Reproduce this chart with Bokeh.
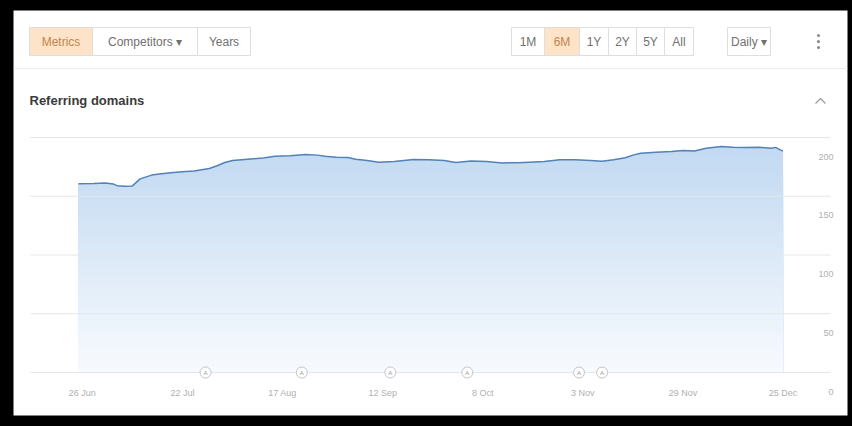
import numpy as np
import pandas as pd
from bokeh.plotting import figure
from bokeh.models import Range1d, GlobalInlineStyleSheet
from bokeh.core.properties import value
from bokeh.embed import file_html
from bokeh.resources import INLINE

# ---------------- data ----------------
dates = ["2019-06-25", "2019-06-29", "2019-07-02", "2019-07-04", "2019-07-05", "2019-07-07",
         "2019-07-09", "2019-07-11", "2019-07-14", "2019-07-16", "2019-07-19", "2019-07-22",
         "2019-07-25", "2019-07-29", "2019-07-31", "2019-08-02", "2019-08-04", "2019-08-08",
         "2019-08-12", "2019-08-15", "2019-08-19", "2019-08-23", "2019-08-26", "2019-08-28",
         "2019-08-31", "2019-09-03", "2019-09-05", "2019-09-08", "2019-09-11", "2019-09-15",
         "2019-09-20", "2019-09-24", "2019-09-28", "2019-10-01", "2019-10-05", "2019-10-09",
         "2019-10-13", "2019-10-17", "2019-10-20", "2019-10-24", "2019-10-28", "2019-11-01",
         "2019-11-05", "2019-11-08", "2019-11-11", "2019-11-14", "2019-11-16", "2019-11-18",
         "2019-11-22", "2019-11-26", "2019-11-29", "2019-12-02", "2019-12-05", "2019-12-09",
         "2019-12-12", "2019-12-15", "2019-12-19", "2019-12-22", "2019-12-23", "2019-12-25"]
referring_domains = [160.6, 160.8, 161.2, 160.5, 159.0, 158.6,
                     158.8, 164.8, 168.0, 169.0, 170.0, 170.8,
                     171.5, 173.6, 176.0, 178.7, 180.4, 181.5,
                     182.6, 184.0, 184.5, 185.5, 185.0, 184.0,
                     183.2, 183.0, 181.5, 180.4, 179.0, 179.5,
                     181.2, 181.0, 180.5, 178.7, 180.0, 179.5,
                     178.3, 178.6, 179.0, 179.5, 181.0, 181.0,
                     180.5, 179.8, 181.0, 182.7, 185.0, 186.6,
                     187.4, 188.0, 188.9, 188.5, 190.9, 192.3,
                     191.8, 191.5, 191.6, 190.9, 191.6, 188.4]

x_tick_dates = ["2019-06-26", "2019-07-22", "2019-08-17", "2019-09-12",
                "2019-10-08", "2019-11-03", "2019-11-29", "2019-12-25"]
x_tick_labels = ["26 Jun", "22 Jul", "17 Aug", "12 Sep", "8 Oct", "3 Nov", "29 Nov", "25 Dec"]
y_ticks = [0, 50, 100, 150, 200]
y_tick_labels = ["0", "50", "100", "150", "200"]

event_dates = ["2019-07-28", "2019-08-22", "2019-09-14", "2019-10-04", "2019-11-02", "2019-11-08"]
event_letters = ["A", "A", "A", "A", "A", "A"]

left_tabs = ["Metrics", "Competitors \u25be", "Years"]
range_tabs = ["1M", "6M", "1Y", "2Y", "5Y", "All"]
interval_label = "Daily \u25be"
chart_title = "Referring domains"

FONT = value("Liberation Sans")

# ---------------- figure geometry ----------------
FW, FH = 834, 405             # white panel (frame) size in px
t0 = pd.Timestamp("2019-06-25")
px_per_day = 3.85             # horizontal scale of the chart
x0_px = 65                    # panel x of first day
px_per_unit = 1.175           # vertical scale of the chart
y0_px = 362                   # panel y of value 0

x_start = t0 + pd.Timedelta(days=-x0_px / px_per_day)
x_end = t0 + pd.Timedelta(days=(FW - x0_px) / px_per_day)
y_lo = -(FH - y0_px) / px_per_unit
y_hi = y0_px / px_per_unit

p = figure(width=852, height=426, x_axis_type="datetime",
           x_range=Range1d(x_start, x_end), y_range=Range1d(y_lo, y_hi),
           x_axis_location=None, y_axis_location=None, output_backend="svg",
           toolbar_location=None, min_border_left=13, min_border_right=5,
           min_border_top=10, min_border_bottom=11, outline_line_color=None,
           background_fill_color="white", border_fill_color="black",
           stylesheets=[GlobalInlineStyleSheet(css="html, body { background: #000; }")])
p.grid.visible = False
p.extra_x_ranges = {"px": Range1d(0, FW)}
p.extra_y_ranges = {"py": Range1d(FH, 0)}
H = dict(x_range_name="px", y_range_name="py")

# ---------------- header ----------------
lt_left = [16, 79, 184]
lt_right = [79, 184, 237]
p.quad(left=lt_left, right=lt_right, top=[17] * 3, bottom=[45] * 3,
       fill_color=["#fde3c8", "white", "white"], line_color="#dedede", line_width=1, **H)
p.text(x=[(a + b) / 2 for a, b in zip(lt_left, lt_right)], y=[31] * 3, text=left_tabs,
       text_align="center", text_baseline="middle", text_font=FONT, text_font_size="12px",
       text_color=["#c4844c", "#707070", "#707070"], **H)

rt_left = [498, 531, 566, 595, 623, 651]
rt_right = [531, 566, 595, 623, 651, 680]
p.quad(left=rt_left, right=rt_right, top=[17] * 6, bottom=[45] * 6,
       fill_color=["white", "#fde3c8", "white", "white", "white", "white"],
       line_color="#dedede", line_width=1, **H)
p.text(x=[(a + b) / 2 for a, b in zip(rt_left, rt_right)], y=[31] * 6, text=range_tabs,
       text_align="center", text_baseline="middle", text_font=FONT, text_font_size="12px",
       text_color=["#707070", "#c4844c", "#707070", "#707070", "#707070", "#707070"], **H)

p.quad(left=[714], right=[757], top=[17], bottom=[45], fill_color="white",
       line_color="#dedede", line_width=1, **H)
p.text(x=[735.5], y=[31], text=[interval_label], text_align="center", text_baseline="middle",
       text_font=FONT, text_font_size="12px", text_color="#707070", **H)
p.scatter(x=[805, 805, 805], y=[25, 31, 37], size=3, marker="circle",
          fill_color="#888888", line_color=None, **H)

p.segment(x0=[0], x1=[FW], y0=[58], y1=[58], line_color="#ececec", line_width=1, **H)

p.text(x=[16], y=[90], text=[chart_title], text_align="left", text_baseline="middle",
       text_font=FONT, text_font_size="13px", text_font_style="bold",
       text_color="#3a3a3a", **H)
p.line(x=[802, 807, 812], y=[93, 88, 93], line_color="#9a9a9a", line_width=1.2, **H)

# ---------------- chart ----------------
dts = pd.to_datetime(dates)
vals = np.array(referring_domains)

# vertical gradient fill, simulated with stacked areas
top_c = np.array([192, 216, 241])
bot_c = np.array([248, 251, 254])
for b in np.linspace(200, 5, 40):
    t = b / 200.0
    c = bot_c + (top_c - bot_c) * t
    col = "#%02x%02x%02x" % tuple(int(round(v)) for v in c)
    p.varea(x=dts, y1=np.zeros_like(vals), y2=np.minimum(vals, b), fill_color=col)

# horizontal grid lines (value positions through the y scale)
p.segment(x0=[17] * len(y_ticks), x1=[817] * len(y_ticks), y0=y_ticks, y1=y_ticks,
          line_color="#e3e6ea", line_width=1, x_range_name="px")

p.line(x=dts, y=vals, line_color="#5282b8", line_width=1.5)

# tick labels
p.text(x=[820] * len(y_ticks), y=y_ticks, text=y_tick_labels, text_align="right",
       text_baseline="middle", y_offset=19, text_font=FONT, text_font_size="9px",
       text_color="#b0b0b0", x_range_name="px")
p.text(x=pd.to_datetime(x_tick_dates), y=[0] * len(x_tick_dates), text=x_tick_labels,
       text_align="center", text_baseline="middle", y_offset=20, text_font=FONT,
       text_font_size="9px", text_color="#b0b0b0")

# event markers
ev = pd.to_datetime(event_dates)
p.scatter(x=ev, y=[0] * len(ev), size=11, marker="circle", fill_color="white",
          line_color="#c4c4c4", line_width=1)
p.text(x=ev, y=[0] * len(ev), text=event_letters, text_align="center",
       text_baseline="middle", text_font=FONT, text_font_size="6px", text_color="#999999")

open("out.html", "w").write(file_html(p, INLINE))
